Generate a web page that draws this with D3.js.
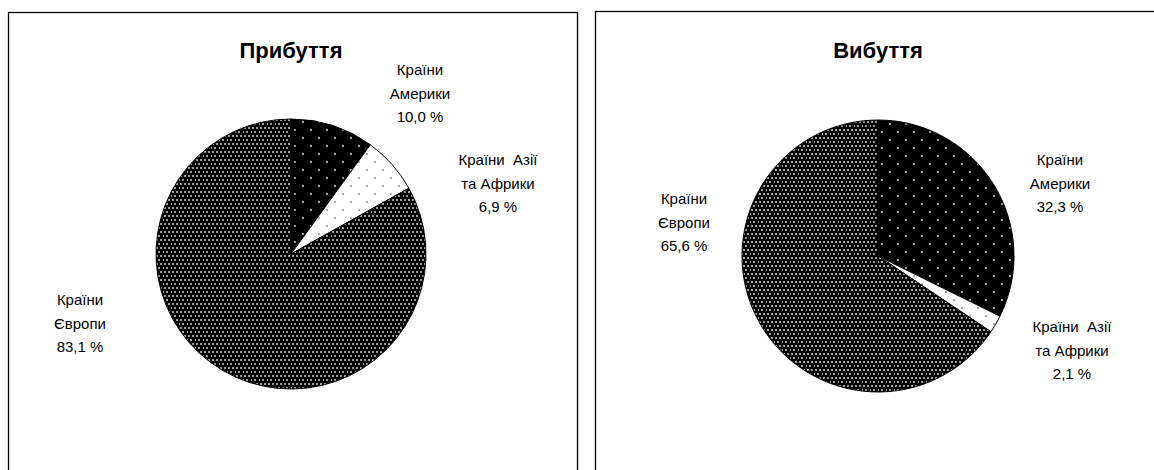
<!DOCTYPE html>
<html>
  <head>
    <meta charset="utf-8">
    <title>Прибуття / Вибуття</title>
  </head>
  <body>
  <style media="screen">
    *{ box-sizing:border-box; }
    body{ margin:0; background:#fff; }
    svg{ display:block; font-family:"Liberation Sans", Arial, sans-serif; }
    .frame{ fill:none; stroke:#000; stroke-width:1.3; }
    .slice{ stroke:#000; stroke-width:1; }
    .title{ font-size:22px; font-weight:bold; text-anchor:middle; }
    .lbl{ font-size:15px; text-anchor:middle; white-space:pre; }
  </style>

  <svg id="chart" width="1154" height="470"></svg>

  <script src="https://d3js.org/d3.v7.min.js"></script>
  <script type="text/javascript">
    // data
    var categories = ['Країни Америки', 'Країни Азії та Африки', 'Країни Європи'];
    var labelLines = [['Країни', 'Америки'], ['Країни  Азії', 'та Африки'], ['Країни', 'Європи']];
    var arrivals = [10.0, 6.9, 83.1];
    var departures = [32.3, 2.1, 65.6];
    var titles = ['Прибуття', 'Вибуття'];

    // layout (label offsets from pie centre, per slice)
    var panels = [
      {frame:[8.5, 12.5, 569, 470], cx:291, cy:254, r:135, values:arrivals, title:titles[0],
       lbl:[[129,-179],[207,-89],[-211,51]]},
      {frame:[595.5, 11.5, 570, 470], cx:878, cy:256, r:136, values:departures, title:titles[1],
       lbl:[[182,-91],[194,76],[-194,-52]]}
    ];

    var svg = d3.select('#chart');
    var defs = svg.append('defs');

    function dotPattern(id, size, bg, dot, pts, rr){
      var p = defs.append('pattern').attr('id', id)
        .attr('patternUnits', 'userSpaceOnUse')
        .attr('width', size).attr('height', size);
      p.append('rect').attr('width', size).attr('height', size).attr('fill', bg);
      pts.forEach(function(q){
        p.append('circle').attr('cx', q[0]).attr('cy', q[1]).attr('r', rr).attr('fill', dot);
      });
    }
    dotPattern('pAm', 16, '#000', '#e0e0e0', [[4,4],[12,12]], 0.95);
    dotPattern('pAs', 16, '#fff', '#555', [[4,4],[12,12]], 0.85);
    dotPattern('pEu', 8, '#000', '#e4e4e4', [[2,2],[6,2],[0,6],[4,6]], 0.9);
    var fills = ['url(#pAm)', 'url(#pAs)', 'url(#pEu)'];

    var pie = d3.pie().sort(null).value(function(d){ return d; });
    var fmt = function(v){ return d3.format('.1f')(v).replace('.', ',') + ' %'; };

    panels.forEach(function(pn){
      svg.append('rect').attr('class', 'frame')
        .attr('x', pn.frame[0]).attr('y', pn.frame[1])
        .attr('width', pn.frame[2]).attr('height', pn.frame[3]);

      svg.append('text').attr('class', 'title')
        .attr('x', pn.cx).attr('y', 58).text(pn.title);

      var arc = d3.arc().innerRadius(0).outerRadius(pn.r);
      var g = svg.append('g').attr('transform', 'translate(' + pn.cx + ',' + pn.cy + ')');

      g.selectAll('path.slice')
        .data(pie(pn.values))
        .enter().append('path')
        .attr('class', 'slice')
        .attr('d', arc)
        .attr('fill', function(d, i){ return fills[i]; });

      pn.values.forEach(function(v, i){
        var t = g.append('text').attr('class', 'lbl')
          .attr('x', pn.lbl[i][0]).attr('y', pn.lbl[i][1]);
        var lines = labelLines[i].concat([fmt(v)]);
        lines.forEach(function(s, k){
          t.append('tspan').attr('x', pn.lbl[i][0]).attr('dy', k == 0 ? 0 : 23.5).text(s);
        });
      });
    });
  </script>
  </body>
</html>
